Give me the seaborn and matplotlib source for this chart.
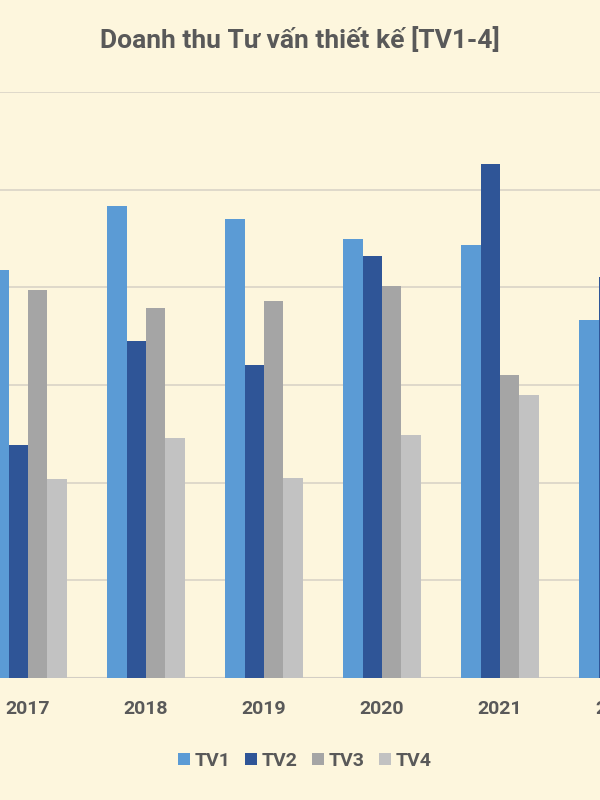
import numpy as np
import pandas as pd
import matplotlib
matplotlib.use("Agg")
import matplotlib.pyplot as plt
from matplotlib import font_manager
import seaborn as sns

# Revenue by service line (same unit for all series)
years = ["2017", "2018", "2019", "2020", "2021", "2022"]
tv1 = [4.18, 4.83, 4.70, 4.50, 4.43, 3.67]
tv2 = [2.39, 3.45, 3.20, 4.32, 5.26, 4.11]
tv3 = [3.97, 3.79, 3.86, 4.01, 3.10, np.nan]
tv4 = [2.04, 2.46, 2.05, 2.49, 2.90, np.nan]
series_names = ["TV1", "TV2", "TV3", "TV4"]
title = "Doanh thu Tư vấn thiết kế [TV1-4]"

colors = ["#5b9bd5", "#2f5597", "#a5a5a5", "#c2c2c2"]
bg = "#fdf6dd"
text_color = "#595959"

df = pd.DataFrame({
    "year": np.tile(years, 4),
    "series": np.repeat(series_names, len(years)),
    "value": tv1 + tv2 + tv3 + tv4,
})

sns.set_theme(style="white")


def pick_font(names):
    for n in names:
        try:
            font_manager.findfont(n, fallback_to_default=False)
            return n
        except Exception:
            continue
    return "DejaVu Sans"


family = pick_font(["Liberation Sans Narrow", "Roboto", "Lato", "DejaVu Sans"])
plt.rcParams["font.family"] = [family, "DejaVu Sans"]

W, H = 600, 800
left_px, right_px = -120, 720      # plot area runs past both figure edges
step_px, first_center_px = 118, 28

fig = plt.figure(figsize=(6, 8), dpi=100, facecolor=bg)
ax = fig.add_axes([left_px / W, 1 - 678 / H, (right_px - left_px) / W, (678 - 92) / H])
ax.set_facecolor(bg)

sns.barplot(data=df, x="year", y="value", hue="series", order=years,
            hue_order=series_names, palette=colors, width=0.66,
            saturation=1, ax=ax, linewidth=0, zorder=3)

ax.set_xlim((left_px - first_center_px) / step_px, (right_px - first_center_px) / step_px)
ax.set_ylim(0, 6)
ax.set_yticks(np.arange(0, 7, 1))
ax.yaxis.grid(True, color="#dcd6c8", linewidth=1.3, zorder=0)
ax.set_axisbelow(True)
ax.axhline(0, color="#d3cec4", linewidth=1.5, zorder=2)
for s in ax.spines.values():
    s.set_visible(False)
ax.tick_params(axis="y", left=False, labelleft=False)
ax.tick_params(axis="x", bottom=False, pad=10, labelsize=14, labelcolor=text_color)
for lbl in ax.get_xticklabels():
    lbl.set_fontweight("bold")
ax.set_xlabel("")
ax.set_ylabel("")

handles, labels = ax.get_legend_handles_labels()
ax.get_legend().remove()
fig.legend(handles, labels, loc="center", bbox_to_anchor=(0.508, 1 - 761 / H),
           ncol=4, frameon=False, handlelength=0.6, handleheight=0.6,
           handletextpad=0.25, columnspacing=0.75,
           prop={"size": 14, "weight": "bold"}, labelcolor=text_color)

fig.text(0.5, 1 - 40 / H, title, ha="center", va="center",
         fontsize=19, fontweight="bold", color=text_color)

fig.savefig("out.png", dpi=100, facecolor=bg)
